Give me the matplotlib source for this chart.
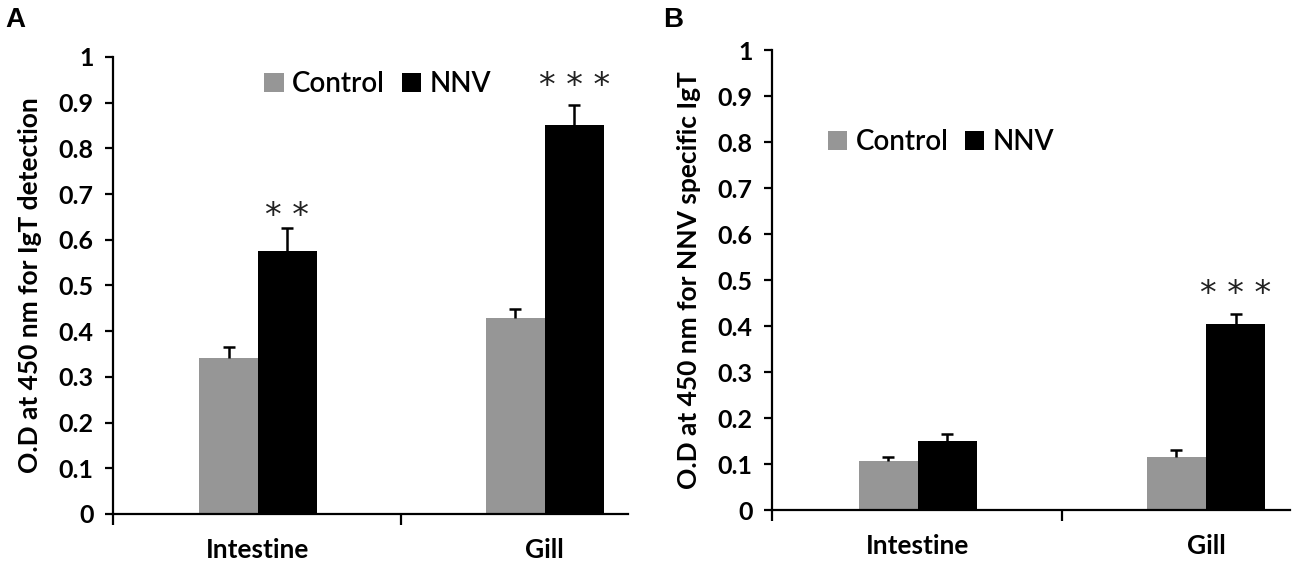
import numpy as np
import matplotlib.pyplot as plt

plt.rcParams['font.family'] = ['Lato', 'DejaVu Sans']

tissues = ['Intestine', 'Gill']
series = ['Control', 'NNV']

# panel A: IgT detection
a_control = [0.341, 0.428]
a_control_err = [0.024, 0.020]
a_nnv = [0.576, 0.852]
a_nnv_err = [0.049, 0.044]
a_stars = ['**', '***']
a_star_y = [0.652, 0.935]

# panel B: NNV specific IgT
b_control = [0.106, 0.116]
b_control_err = [0.010, 0.015]
b_nnv = [0.149, 0.405]
b_nnv_err = [0.017, 0.021]
b_stars = ['', '***']
b_star_y = [None, 0.468]

grey = '#969696'
w = 0.205

fig = plt.figure(figsize=(13.14, 5.67), dpi=100)


def up_err(ax, xs, vals, errs):
    # Excel style "plus" error bars: stem going up and a cap on top only
    tops = np.array(vals) + np.array(errs)
    ax.vlines(xs, vals, tops, color='black', linewidth=1.8, zorder=3)
    ax.plot(xs, tops, ls='none', marker='_', ms=8, mew=1.8, color='black', zorder=3)


def panel(rect, ctrl, ctrl_err, nnv, nnv_err, stars, star_y, ylabel, leg_loc, letter, letter_x):
    ax = fig.add_axes(rect)
    x = np.arange(len(tissues))
    ax.bar(x - w / 2, ctrl, w, color=grey, label=series[0], zorder=2)
    ax.bar(x + w / 2, nnv, w, color='black', label=series[1], zorder=2)
    up_err(ax, x - w / 2, ctrl, ctrl_err)
    up_err(ax, x + w / 2, nnv, nnv_err)
    for i, s in enumerate(stars):
        if s:
            ax.text(x[i] + w / 2, star_y[i], ' '.join(s), ha='center', va='center',
                    fontsize=24, family='DejaVu Sans', color='#222222')
    ax.set_xlim(-0.505, 1.29)
    ax.set_ylim(0, 1)
    ax.set_yticks(np.arange(0, 1.01, 0.1))
    ax.set_yticklabels(['0', '0.1', '0.2', '0.3', '0.4', '0.5', '0.6', '0.7', '0.8', '0.9', '1'])
    ax.set_xticks(x)
    ax.set_xticklabels(tissues)
    ax.tick_params(axis='x', which='major', length=0, pad=17)
    ax.set_xticks([-0.505, 0.5], minor=True)
    ax.tick_params(axis='x', which='minor', length=8, width=1.6, direction='out')
    ax.tick_params(axis='y', length=6, width=1.6, pad=8)
    for t in ax.get_yticklabels():
        t.set_fontweight('bold')
        t.set_fontsize(18)
    for t in ax.get_xticklabels():
        t.set_fontweight('bold')
        t.set_fontsize(19)
    for sp in ['top', 'right']:
        ax.spines[sp].set_visible(False)
    for sp in ['left', 'bottom']:
        ax.spines[sp].set_linewidth(1.6)
    ax.set_ylabel(ylabel, fontweight='bold', fontsize=19, labelpad=12)
    leg = ax.legend(loc='center left', bbox_to_anchor=leg_loc, ncol=2, frameon=False,
                    fontsize=20, handlelength=0.7, handleheight=0.7, handletextpad=0.3,
                    columnspacing=0.6, borderaxespad=0)
    for t in leg.get_texts():
        t.set_fontweight('semibold')
    fig.text(letter_x, 0.965, letter, fontsize=20, fontweight='bold', va='center',
             family='Liberation Sans')
    return ax


axA = panel([0.086, 0.0935, 0.392, 0.806], a_control, a_control_err, a_nnv, a_nnv_err,
            a_stars, a_star_y, 'O.D at 450 nm for IgT detection', (0.272, 0.94), 'A', 0.004)
axB = panel([0.5875, 0.1005, 0.394, 0.8113], b_control, b_control_err, b_nnv, b_nnv_err,
            b_stars, b_star_y, 'O.D at 450 nm for NNV specific IgT', (0.086, 0.80), 'B', 0.505)

fig.savefig('out.png', dpi=100)
